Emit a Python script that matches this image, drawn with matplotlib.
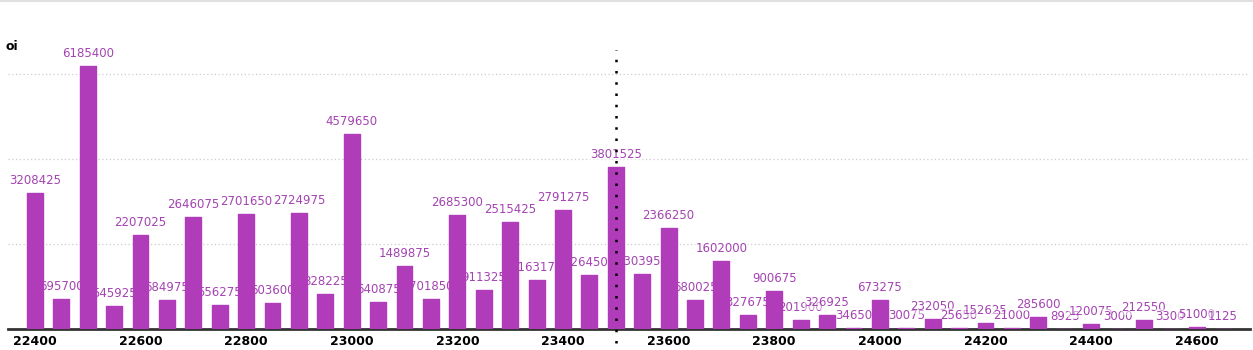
import matplotlib
matplotlib.use("Agg")
import matplotlib.pyplot as plt
from matplotlib.lines import Line2D

# strikes and open interest
strikes = list(range(22400, 24651, 50))
oi = [3208425, 695700, 6185400, 545925, 2207025, 684975, 2646075, 556275,
      2701650, 603600, 2724975, 828225, 4579650, 640875, 1489875, 701850,
      2685300, 911325, 2515425, 1163175, 2791275, 1264500, 3801525, 1303950,
      2366250, 680025, 1602000, 327675, 900675, 201900, 326925, 34650,
      673275, 30075, 232050, 25650, 152625, 21000, 285600, 8925,
      120075, 3000, 212550, 3300, 51000, 1125]
spot = 23500
xticks = [22400, 22600, 22800, 23000, 23200, 23400, 23600, 23800, 24000, 24200, 24400, 24600]
grid_vals = [2000000, 4000000, 6000000]

bar_color = "#B03CBA"
label_color = "#A443B2"

fig = plt.figure(figsize=(12.53, 3.5), dpi=100)
ax = fig.add_axes([8 / 1253, 21 / 350, 1242 / 1253, 279 / 350])

# labels first (bars go over them)
for s, v in zip(strikes, oi):
    ax.annotate(str(v), (s, v), xytext=(0, 9), textcoords="offset points",
                ha="center", va="center", fontsize=8.5, color=label_color,
                zorder=2,
                bbox=dict(boxstyle="square,pad=0.05", fc="white", ec="none", alpha=0.5))

ax.bar(strikes, oi, width=30, color=bar_color, edgecolor=bar_color,
       linewidth=1.0, joinstyle="round", zorder=3)

for g in grid_vals:
    ax.axhline(g, color="#cccccc", lw=0.9, ls=(0, (1, 2)), zorder=1)

ax.axvline(spot, ymin=-0.05, ymax=1.0, color="black", lw=1.8,
           ls=(0, (1, 3.5)), clip_on=False, zorder=4)

ax.set_xlim(22349, 24701)
ax.set_ylim(0, 6565000)
ax.set_xticks(xticks)
ax.set_xticklabels([str(t) for t in xticks], fontsize=9, fontweight="bold")
ax.tick_params(axis="x", length=0, pad=4)
ax.set_yticks([])
for side in ["top", "right", "left"]:
    ax.spines[side].set_visible(False)
ax.spines["bottom"].set_color("#333333")
ax.spines["bottom"].set_linewidth(2)

fig.text(5 / 1253, 1 - 47 / 350, "oi", fontsize=9, fontweight="bold", va="center")
fig.add_artist(Line2D([0, 1], [0.998, 0.998], transform=fig.transFigure,
                      color="#e0e0e0", lw=1.5))

fig.savefig("out.png", dpi=100)
